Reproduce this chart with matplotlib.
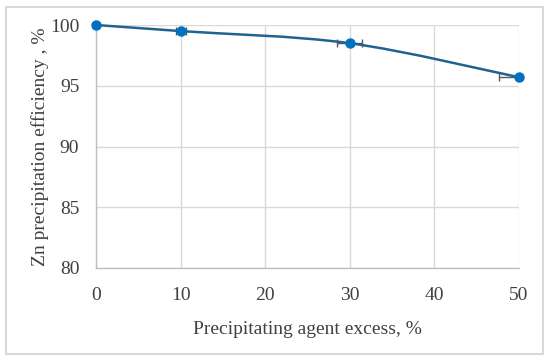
import numpy as np
import matplotlib
matplotlib.use('Agg')
import matplotlib.pyplot as plt
from matplotlib.path import Path
from matplotlib.patches import PathPatch, Rectangle

# data
excess = [0, 10, 30, 50]
efficiency = [100.0, 99.5, 98.5, 95.7]
excess_err = [0.0, 0.6, 1.5, 2.4]

line_col = '#1F6391'
mark_col = '#0070C0'

plt.rcParams['font.family'] = ['Liberation Serif', 'DejaVu Serif']

fig = plt.figure(figsize=(5.5, 3.61), dpi=100)
ax = fig.add_axes([96/550, 1-268/361, (519-96)/550, (268-25)/361])

# outer frame
fig.patches.append(Rectangle((6/550, 1-354/361), 537/550, 347/361,
                             transform=fig.transFigure, fill=False,
                             edgecolor='#D9D9D9', linewidth=1.5))

# smooth line like Excel (cardinal spline through the points)
x = np.array(excess, float)
y = np.array(efficiency, float)
verts = [(x[0], y[0])]
codes = [Path.MOVETO]
n = len(x)
for i in range(n - 1):
    p0 = (x[max(i-1, 0)], y[max(i-1, 0)])
    p1 = (x[i], y[i])
    p2 = (x[i+1], y[i+1])
    p3 = (x[min(i+2, n-1)], y[min(i+2, n-1)])
    c1 = (p1[0] + (p2[0]-p0[0])/6, p1[1] + (p2[1]-p0[1])/6)
    c2 = (p2[0] - (p3[0]-p1[0])/6, p2[1] - (p3[1]-p1[1])/6)
    verts += [c1, c2, p2]
    codes += [Path.CURVE4]*3
ax.add_patch(PathPatch(Path(verts, codes), fill=False, edgecolor=line_col,
                       linewidth=1.8, zorder=3, clip_on=False))

ax.errorbar(excess, efficiency, xerr=excess_err, fmt='none', ecolor='#595959',
            elinewidth=1.0, capsize=3, capthick=1.0, zorder=2)
ax.plot(excess, efficiency, 'o', color=mark_col, markersize=6.5, zorder=4,
        clip_on=False)

ax.set_xlim(0, 50)
ax.set_ylim(80, 100)
ax.set_xticks([0, 10, 20, 30, 40, 50])
ax.set_yticks([80, 85, 90, 95, 100])
ax.grid(True, color='#D9D9D9', linewidth=1.0)
ax.set_axisbelow(True)
for s in ['top', 'right']:
    ax.spines[s].set_visible(False)
for s in ['left', 'bottom']:
    ax.spines[s].set_color('#BFBFBF')
    ax.spines[s].set_linewidth(1.0)
ax.tick_params(length=0, labelsize=14, colors='#404040', labelcolor='#404040')
ax.tick_params(axis='y', pad=12)
ax.tick_params(axis='x', pad=14)
ax.set_xlabel('Precipitating agent excess, %', fontsize=14, color='#404040',
              labelpad=12)
ax.set_ylabel('Zn precipitation efficiency , %', fontsize=14, color='#404040',
              labelpad=1)

fig.savefig('out.png', dpi=100)
